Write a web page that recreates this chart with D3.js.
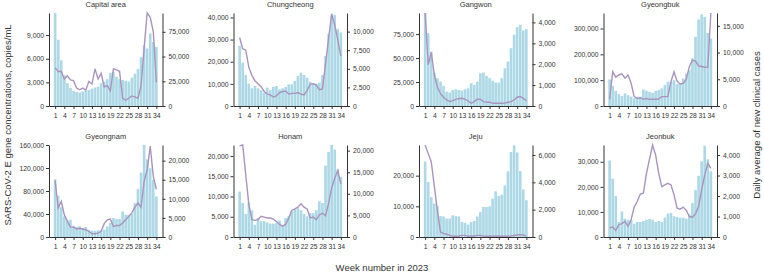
<!DOCTYPE html>
<meta charset="utf-8">
<style>
body { margin: 0; background: #fff; }
svg { font-family: 'Liberation Sans', Arial, sans-serif; }
.tick text { fill: #333; font-size: 6.8px; }
.tick line, .domain { stroke: #333; }
.ptitle { fill: #333; font-size: 7.5px; }
.alabel { fill: #333; font-size: 9.5px; }
</style>
<body>
<script src="https://cdn.jsdelivr.net/npm/d3@7"></script>
<script>
// weeks and tick labels
var weeks = [1,2,3,4,5,6,7,8,9,10,11,12,13,14,15,16,17,18,19,20,21,22,23,24,25,26,27,28,29,30,31,32,33,34];
var weekTicks = [1,4,7,10,13,16,19,22,25,28,31,34];

var regions = ["Capital area","Chungcheong","Gangwon","Gyeongbuk","Gyeongnam","Honam","Jeju","Jeonbuk"];

// E gene concentration (copies/mL), bars
var capitalConc = [11800,8400,5800,3900,2900,2300,1900,1800,1700,1850,1950,2050,2200,2350,2450,2900,3100,3400,4200,4300,3700,3400,3300,3200,3100,3600,4100,4700,6200,7700,7300,9200,8100,7500];
var chungConc = [27200,19600,14000,10100,8000,9000,8000,7100,6000,8300,7100,8600,9000,7500,8000,8600,9800,9800,11300,13600,15100,14000,12800,11000,10100,10100,10600,14000,22600,32500,40800,41200,34700,33200];
var gangConc = [97000,76000,56800,34900,29000,25500,21000,15000,14000,16700,17400,16700,16000,17400,18500,23700,22000,25500,34200,34900,31400,29000,26500,24400,24400,29000,39400,46400,60300,74300,82300,84700,78800,80200];
var gbConc = [103000,77000,59000,46000,39000,49000,42000,36000,30000,36000,36000,64000,59000,55000,51000,59000,62000,68000,81000,94000,94000,100000,85000,88000,107000,126000,139000,184000,268000,335000,355000,345000,283000,261000];
var gnConc = [100500,71600,52000,35800,28900,30000,19600,17300,18500,15600,17300,11600,11000,11000,11600,11600,12700,18500,24300,32900,31200,31200,44500,38700,38700,40400,58900,83200,112000,160000,135000,119600,99400,70500];
var hnConc = [11200,8400,5700,8500,6600,3000,4700,3900,3900,3600,3300,3300,3400,4100,3000,4700,5100,6300,6900,7100,6600,5700,5100,5900,5900,6600,8800,8400,17600,21000,22700,21600,16700,14800];
var jejuConc = [24600,17900,13000,10900,10000,6800,6700,6000,6000,7100,6800,6700,4900,4600,4000,4900,5200,6700,8200,9800,9800,10000,12500,14900,13400,13800,16800,21400,27700,29900,27600,21500,15500,12000];
var jbConc = [30500,23300,16300,6000,10200,7300,6900,6700,5300,6000,6000,6400,6900,7200,6900,6000,6400,6000,7700,9300,9600,8300,8000,7700,7700,7300,9000,13600,18700,24400,30200,36400,31000,26200];

// daily average of new clinical cases, lines
var capitalCases = [38500,34800,35100,27300,30400,26300,25600,18100,16400,18100,16000,24900,22200,37500,27300,33100,19400,20500,15300,37500,36500,35100,7800,5800,7800,10200,9200,7800,20000,58000,94000,89700,75000,23900];
var chungCases = [9200,7700,7500,5200,4100,3400,3000,2600,1950,1600,1500,1200,1360,1800,1950,2000,1600,1700,1700,1800,1600,1500,2100,2900,3000,2800,2200,2300,5700,9100,12400,10900,8900,6700];
var gangCases = [4450,1970,2560,1490,900,600,420,290,210,260,320,350,370,320,240,130,210,320,320,210,190,180,140,130,130,130,140,180,210,290,420,450,370,240];
var gbCases = [1250,6400,5400,5800,6000,5200,5800,4250,1750,1400,1550,1250,1400,1250,1250,1250,1300,1750,1750,1750,4600,6400,4600,4100,4250,5000,7400,8600,8400,7500,7400,7250,7300,17400];
var gnCases = [14800,7600,9300,5800,4100,2600,2600,2100,2300,2100,1900,1500,870,870,1000,1500,3500,4500,4700,2800,3000,3000,3650,4500,5400,6300,7800,8900,7800,14500,17600,23800,15800,12500];
var hnCases = [21100,21300,14400,7500,4000,3850,4000,4800,4600,4400,4400,4150,3600,2900,2500,2900,4400,6150,6500,6900,7700,6900,6500,4400,4600,4000,5150,5500,4900,7800,11300,13600,15400,12300];
var jejuCases = [6730,6100,5500,3700,1900,370,250,200,120,50,50,70,120,120,50,70,70,120,120,70,50,50,50,50,50,50,50,50,70,120,150,170,150,70];
var jbCases = [440,490,320,600,650,760,520,840,1460,1730,2100,2140,3100,3800,4490,4000,3100,2460,2540,2620,2540,2060,1410,1360,1460,1300,1000,970,1130,1490,2300,3030,3600,3350];

// axis tops and tick labels
var leftMax = [11800, 42000, 97000, 360000, 160000, 22700, 30000, 36700];
var rightMax = [94000, 12500, 4450, 17400, 24100, 21300, 6730, 4490];
var leftTicks = [
  [0,3000,6000,9000],
  [0,10000,20000,30000,40000],
  [0,25000,50000,75000],
  [0,100000,200000,300000],
  [0,40000,80000,120000,160000],
  [0,5000,10000,15000,20000],
  [0,10000,20000],
  [0,10000,20000,30000]
];
var rightTicks = [
  [0,25000,50000,75000],
  [0,2500,5000,7500,10000],
  [0,1000,2000,3000,4000],
  [0,5000,10000,15000],
  [0,5000,10000,15000,20000],
  [0,5000,10000,15000,20000],
  [0,2000,4000,6000],
  [0,1000,2000,3000,4000]
];

var concs = [capitalConc, chungConc, gangConc, gbConc, gnConc, hnConc, jejuConc, jbConc];
var cases = [capitalCases, chungCases, gangCases, gbCases, gnCases, hnCases, jejuCases, jbCases];

var W = 764, H = 273;
var colLeft = [49, 233.5, 419, 603.5];
var pw = 113.5;
var rowTop = [13, 145], rowBottom = [106, 237];

var svg = d3.select("body").append("svg")
  .attr("width", W).attr("height", H);

var fmt = d3.format(",");

regions.forEach(function(name, i) {
  var left = colLeft[i % 4], top = rowTop[Math.floor(i / 4)], bottom = rowBottom[Math.floor(i / 4)];
  var x = d3.scaleLinear().domain([-1, 36]).range([left, left + pw]);
  var yL = d3.scaleLinear().domain([0, leftMax[i]]).range([bottom, top]);
  var yR = d3.scaleLinear().domain([0, rightMax[i]]).range([bottom, top]);
  var bw = (x(2) - x(1)) * 0.86;

  var g = svg.append("g");

  g.selectAll(".bar")
    .data(concs[i])
    .enter().append("rect")
    .attr("x", (d, j) => x(weeks[j]) - bw / 2)
    .attr("y", d => yL(d))
    .attr("width", bw)
    .attr("height", d => bottom - yL(d))
    .attr("fill", "#add8e6");

  var line = d3.line()
    .x((d, j) => x(weeks[j]))
    .y(d => yR(d));

  g.append("path")
    .datum(cases[i])
    .attr("d", line)
    .attr("fill", "none")
    .attr("stroke", "#a994bd")
    .attr("stroke-width", 1.4);

  g.append("g")
    .attr("transform", "translate(" + left + ",0)")
    .call(d3.axisLeft(yL).tickValues(leftTicks[i]).tickFormat(fmt).tickSize(3).tickPadding(2).tickSizeOuter(0));

  g.append("g")
    .attr("transform", "translate(" + (left + pw) + ",0)")
    .call(d3.axisRight(yR).tickValues(rightTicks[i]).tickFormat(fmt).tickSize(3).tickPadding(3).tickSizeOuter(0));

  g.append("g")
    .attr("transform", "translate(0," + bottom + ")")
    .call(d3.axisBottom(x).tickValues(weekTicks).tickSize(3).tickPadding(4).tickSizeOuter(0));

  g.append("text")
    .attr("class", "ptitle")
    .attr("x", left + pw / 2)
    .attr("y", top - 6)
    .attr("text-anchor", "middle")
    .text(name);
});

svg.selectAll(".domain").attr("stroke-width", 1);
svg.selectAll(".tick text").attr("font-size", null);

svg.append("text")
  .attr("class", "alabel")
  .attr("transform", "translate(11,125) rotate(-90)")
  .attr("text-anchor", "middle")
  .text("SARS-CoV-2 E gene concentrations, copies/mL");

svg.append("text")
  .attr("class", "alabel")
  .attr("transform", "translate(760,125) rotate(-90)")
  .attr("text-anchor", "middle")
  .text("Daily average of new clinical cases");

svg.append("text")
  .attr("class", "alabel")
  .attr("x", 382)
  .attr("y", 271)
  .attr("text-anchor", "middle")
  .text("Week number in 2023");
</script>
</body>
